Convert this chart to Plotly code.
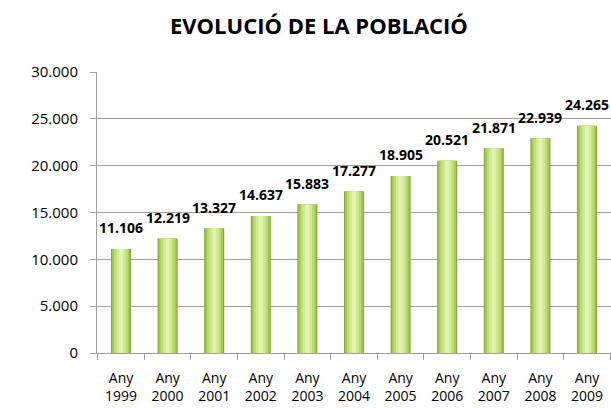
import plotly.graph_objects as go

# data
years = ['1999', '2000', '2001', '2002', '2003', '2004', '2005', '2006', '2007', '2008', '2009']
population = [11106, 12219, 13327, 14637, 15883, 17277, 18905, 20521, 21871, 22939, 24265]
y_ticks = [0, 5000, 10000, 15000, 20000, 25000, 30000]
y_tick_labels = ['0', '5.000', '10.000', '15.000', '20.000', '25.000', '30.000']

categories = ['Any<br>' + y for y in years]
value_labels = [f'{v:,}'.replace(',', '.') for v in population]

FONT = 'Open Sans'

fig = go.Figure()

# fake a cylinder look by stacking narrower, lighter bars on top of each other
shades = [
    (0.43, '#86a83a'),
    (0.38, '#a3c957'),
    (0.30, '#bcdc74'),
    (0.20, '#cfea8f'),
    (0.09, '#e0f3b2'),
]
for w, c in shades:
    fig.add_trace(go.Bar(
        x=categories,
        y=population,
        width=w,
        marker=dict(color=c, line=dict(width=0)),
        hoverinfo='skip',
        showlegend=False,
    ))

# value labels sit a bit above each bar
for cat, v, txt in zip(categories, population, value_labels):
    fig.add_annotation(
        x=cat, y=v, text='<b>' + txt + '</b>',
        showarrow=False, yshift=21, yanchor='middle',
        font=dict(family=FONT, size=14, color='black'),
    )

fig.update_layout(
    width=611,
    height=408,
    barmode='overlay',
    plot_bgcolor='white',
    paper_bgcolor='white',
    margin=dict(l=97, r=0, t=72, b=55),
    title=dict(
        text='<b>EVOLUCIÓ DE LA POBLACIÓ</b>',
        x=0.522, xanchor='center', y=0.935, yanchor='middle',
        font=dict(family=FONT, size=22, color='black'),
    ),
    font=dict(family=FONT, color='black'),
    xaxis=dict(
        tickson='boundaries',
        ticks='outside', ticklen=6, tickcolor='#a0a0a0',
        showline=True, linecolor='#a0a0a0', linewidth=1,
        showgrid=False,
        ticklabelstandoff=12,
        tickfont=dict(size=14),
    ),
    yaxis=dict(
        range=[0, 30000],
        tickvals=y_ticks,
        ticktext=y_tick_labels,
        ticks='outside', ticklen=6, tickcolor='#a0a0a0',
        showline=True, linecolor='#a0a0a0', linewidth=1,
        showgrid=True, gridcolor='#a0a0a0', gridwidth=1,
        zeroline=False,
        ticklabelstandoff=9,
        tickfont=dict(size=15),
    ),
)

# drop the browser's default body margin so the figure sits at the page corner
fig.write_html('out.html', config={'displayModeBar': False},
               post_script="document.body.style.margin='0';")
